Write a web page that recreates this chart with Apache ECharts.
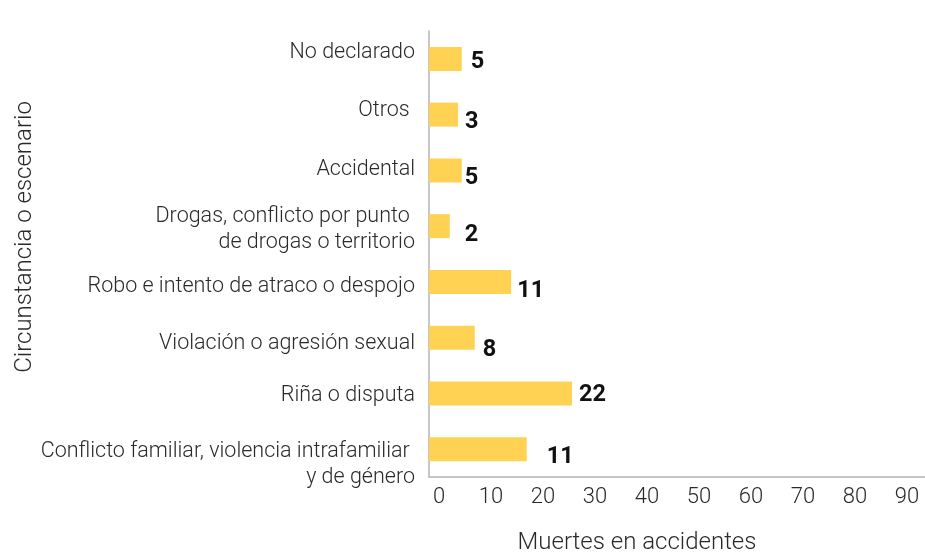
<!DOCTYPE html>
<html>
<head>
<meta charset="utf-8">
<script src="https://cdn.jsdelivr.net/npm/echarts@6/dist/echarts.min.js"></script>
<style>
  html, body { margin: 0; padding: 0; background: #fff; }
  #chart { width: 925px; height: 553px; }
</style>
</head>
<body>
<div id="chart"></div>
<script>
// categorias, de abajo hacia arriba
var categorias = [
    'Conflicto familiar, violencia intrafamiliar \ny de género',
    'Riña o disputa',
    'Violación o agresión sexual',
    'Robo e intento de atraco o despojo',
    'Drogas, conflicto por punto \nde drogas o territorio',
    'Accidental',
    'Otros ',
    'No declarado'
];
// largo de las barras leido contra el eje
var barras = [18.8, 27.5, 8.8, 15.8, 4.0, 6.3, 5.6, 6.3];
// cifras impresas junto a cada barra
var etiquetas = [11, 22, 8, 11, 2, 5, 3, 5];

var ejeX = { min: 0, max: 95.4, interval: 10 };

// ajustes finos de posicion (no son datos)
var cifraDx = [13, 0, 1, -1, 8, -4, 0, 2];
var cifraDy = [8, 2, 12, 9, 9, 8, 7, 3];
var nombreDy = [15, 2, 6, 5, 3, -1, -4, -6];

var chartDom = echarts.init(document.getElementById('chart'));

var serie = barras.map(function (v, i) {
    return {
        value: v,
        label: { offset: [cifraDx[i], cifraDy[i]] }
    };
});

// estilos rich: una linea vacia arriba o abajo desplaza cada texto
var fuenteEje = { fontFamily: 'Roboto', fontSize: 21.5, fontWeight: 300, color: '#2a2a2a', lineHeight: 26 };
var richEje = { n: fuenteEje };
nombreDy.forEach(function (d, i) {
    var h = Math.max(Math.abs(d) * 2, 1);
    richEje['s' + i] = { fontSize: 1, lineHeight: h, height: h };
});

function etiquetaEje(valor, idx) {
    var d = nombreDy[idx];
    var txt = valor.split('\n').map(function (l) {
        return '{n|' + l + '}';
    }).join('\n');
    if (d > 0) txt = '{s' + idx + '| }\n' + txt;
    if (d < 0) txt = txt + '\n{s' + idx + '| }';
    return txt;
}

chartDom.setOption({
    animation: false,
    textStyle: { fontFamily: 'Roboto' },
    grid: { left: 429, right: 0, top: 31, bottom: 76, containLabel: false, outerBoundsMode: 'none' },
    xAxis: {
        type: 'value',
        min: ejeX.min,
        max: ejeX.max,
        interval: ejeX.interval,
        name: 'Muertes en accidentes',
        nameLocation: 'middle',
        nameGap: 54,
        nameTextStyle: { fontSize: 24, fontWeight: 300, color: '#2a2a2a', padding: [0, 80, 0, 0] },
        axisLine: { show: true, lineStyle: { color: '#b4b4b4', width: 1.5 } },
        axisTick: { show: false },
        splitLine: { show: false },
        axisLabel: {
            showMaxLabel: false,
            margin: 9,
            fontSize: 22,
            fontWeight: 300,
            color: '#2a2a2a',
            padding: [0, 0, 0, 20]
        }
    },
    yAxis: {
        type: 'category',
        data: categorias,
        name: 'Circunstancia o escenario',
        nameLocation: 'middle',
        nameGap: 392,
        nameMoveOverlap: false,
        nameRotate: 90,
        nameTextStyle: { fontSize: 24, fontWeight: 300, color: '#2a2a2a', padding: [0, 0, 0, 34] },
        axisLine: { show: true, lineStyle: { color: '#b4b4b4', width: 1.5 } },
        axisTick: { show: false },
        axisLabel: {
            margin: 14,
            align: 'right',
            formatter: etiquetaEje,
            rich: richEje
        }
    },
    series: [{
        type: 'bar',
        data: serie,
        barWidth: 24,
        itemStyle: { color: '#FFD254' },
        label: {
            show: true,
            position: 'right',
            distance: 7,
            fontSize: 23.5,
            fontWeight: 'bold',
            color: '#111',
            formatter: function (p) {
                return etiquetas[p.dataIndex];
            }
        }
    }]
});
</script>
</body>
</html>
